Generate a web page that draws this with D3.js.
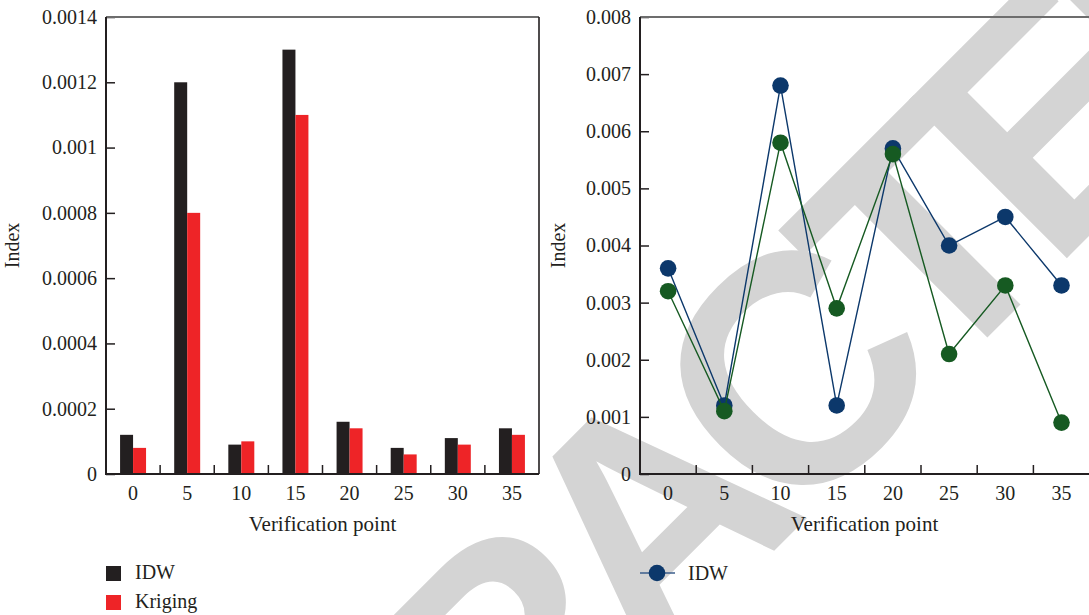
<!DOCTYPE html>
<html>
<head>
<meta charset="utf-8">
<script src="https://cdn.jsdelivr.net/npm/d3@7"></script>
<style>
  body { margin: 0; background: #fff; }
  text { font-family: "Liberation Serif", "Times New Roman", serif; fill: #231f20; }
</style>
</head>
<body>
<svg id="chart" width="1089" height="615"></svg>
<script>
// verification points (x categories)
var points = ["0", "5", "10", "15", "20", "25", "30", "35"];

// left panel: bar values
var barIDW     = [0.00012, 0.0012, 0.00009, 0.0013, 0.00016, 0.00008, 0.00011, 0.00014];
var barKriging = [0.00008, 0.0008, 0.00010, 0.0011, 0.00014, 0.00006, 0.00009, 0.00012];
var barTicks  = [0, 0.0002, 0.0004, 0.0006, 0.0008, 0.001, 0.0012, 0.0014];
var barLabels = ["0", "0.0002", "0.0004", "0.0006", "0.0008", "0.001", "0.0012", "0.0014"];

// right panel: line values
var lineIDW     = [0.0036, 0.0012, 0.0068, 0.0012, 0.0057, 0.0040, 0.0045, 0.0033];
var lineKriging = [0.0032, 0.0011, 0.0058, 0.0029, 0.0056, 0.0021, 0.0033, 0.0009];
var lineTicks  = [0, 0.001, 0.002, 0.003, 0.004, 0.005, 0.006, 0.007, 0.008];
var lineLabels = ["0", "0.001", "0.002", "0.003", "0.004", "0.005", "0.006", "0.007", "0.008"];

var dark = "#231f20", red = "#ee2427", blue = "#0c386b", green = "#165a22";

var svg = d3.select("#chart");

// watermark behind everything
svg.append("text")
	.attr("transform", "translate(112,1213) rotate(-45)")
	.attr("text-anchor", "start")
	.style("font-family", "'Liberation Sans', Arial, sans-serif")
	.style("font-weight", "bold")
	.style("font-size", "325px")
	.style("letter-spacing", "-32px")
	.style("fill", "#d4d4d4")
	.text("RETRACTED");

function frame(g, x0, x1, y0, y1, x, y, ticks, labels, showRight, titleOff) {
	// category boundary ticks (inward)
	g.selectAll(".xt")
		.data(points.slice(1))
		.enter().append("line")
		.attr("x1", function(d) { return x(d); })
		.attr("x2", function(d) { return x(d); })
		.attr("y1", y0).attr("y2", y0 - 9)
		.attr("stroke", dark).attr("stroke-width", 1.5);

	g.selectAll(".xl")
		.data(points)
		.enter().append("text")
		.attr("x", function(d) { return x(d) + x.bandwidth() / 2; })
		.attr("y", y0 + 26)
		.attr("text-anchor", "middle")
		.style("font-size", "20px")
		.text(function(d) { return d; });

	var ax = d3.axisLeft(y)
		.tickValues(ticks)
		.tickSize(-9)
		.tickPadding(9)
		.tickFormat(function(d, i) { return labels[i]; });
	var ya = g.append("g").attr("transform", "translate(" + x0 + ",0)").call(ax);
	ya.select(".domain").remove();
	ya.selectAll(".tick line").attr("stroke", dark).attr("stroke-width", 1.5);
	ya.selectAll(".tick text")
		.style("font-family", "'Liberation Serif', serif")
		.style("font-size", "20px")
		.attr("fill", dark);

	// frame lines
	g.append("line").attr("x1", x0).attr("x2", x1).attr("y1", y1).attr("y2", y1)
		.attr("stroke", "#6d6d6d").attr("stroke-width", 1.8);
	if (showRight) {
		g.append("line").attr("x1", x1).attr("x2", x1).attr("y1", y1).attr("y2", y0)
			.attr("stroke", dark).attr("stroke-width", 1.6);
	}
	g.append("line").attr("x1", x0).attr("x2", x0).attr("y1", y1).attr("y2", y0 + 1)
		.attr("stroke", dark).attr("stroke-width", 2);
	g.append("line").attr("x1", x0).attr("x2", x1).attr("y1", y0).attr("y2", y0)
		.attr("stroke", dark).attr("stroke-width", 2);

	g.append("text")
		.attr("x", (x0 + Math.min(x1, 1089)) / 2)
		.attr("y", y0 + 57)
		.attr("text-anchor", "middle")
		.style("font-size", "21px")
		.text("Verification point");

	g.append("text")
		.attr("transform", "translate(" + (x0 - titleOff) + "," + ((y0 + y1) / 2) + ") rotate(-90)")
		.attr("text-anchor", "middle")
		.style("font-size", "20px")
		.text("Index");
}

// ---- left: bar chart ----
var L = { x0: 106, x1: 539, y0: 474, y1: 17 };
var gl = svg.append("g");
var xl = d3.scaleBand().domain(points).range([L.x0, L.x1]);
var yl = d3.scaleLinear().domain([0, 0.0014]).range([L.y0, L.y1]);
var xs = d3.scaleBand().domain(["IDW", "Kriging"])
	.range([0, xl.bandwidth() * 0.48]);
var off = (xl.bandwidth() - xl.bandwidth() * 0.48) / 2;

var barRows = points.map(function(p, i) {
	return [{ p: p, k: "IDW", v: barIDW[i] }, { p: p, k: "Kriging", v: barKriging[i] }];
});
gl.selectAll(".grp")
	.data(barRows)
	.enter().append("g")
	.selectAll("rect")
	.data(function(d) { return d; })
	.enter().append("rect")
	.attr("x", function(d) { return xl(d.p) + off + xs(d.k); })
	.attr("width", xs.bandwidth())
	.attr("y", function(d) { return yl(d.v); })
	.attr("height", function(d) { return L.y0 - yl(d.v); })
	.attr("fill", function(d) { return d.k == "IDW" ? dark : red; });

frame(gl, L.x0, L.x1, L.y0, L.y1, xl, yl, barTicks, barLabels, true, 87);

// legend left
var legL = [{ k: "IDW", c: dark }, { k: "Kriging", c: red }];
gl.selectAll(".leg")
	.data(legL)
	.enter().append("rect")
	.attr("x", 106).attr("y", function(d, i) { return 566 + i * 29; })
	.attr("width", 15).attr("height", 15)
	.attr("fill", function(d) { return d.c; });
gl.selectAll(".legt")
	.data(legL)
	.enter().append("text")
	.attr("x", 135).attr("y", function(d, i) { return 579 + i * 29; })
	.style("font-size", "20px")
	.text(function(d) { return d.k; });

// ---- right: line chart ----
var R = { x0: 640, x1: 1089.6, y0: 474, y1: 17 };
var gr = svg.append("g");
var xr = d3.scaleBand().domain(points).range([R.x0, R.x1]);
var yr = d3.scaleLinear().domain([0, 0.008]).range([R.y0, R.y1]);

frame(gr, R.x0, R.x1, R.y0, R.y1, xr, yr, lineTicks, lineLabels, false, 75);

var line = d3.line()
	.x(function(d, i) { return xr(points[i]) + xr.bandwidth() / 2; })
	.y(function(d) { return yr(d); });

[{ v: lineIDW, c: blue }, { v: lineKriging, c: green }].forEach(function(s) {
	gr.append("path")
		.datum(s.v)
		.attr("d", line)
		.attr("fill", "none")
		.attr("stroke", s.c)
		.attr("stroke-width", 1.4);
	gr.append("g").selectAll("circle")
		.data(s.v)
		.enter().append("circle")
		.attr("cx", function(d, i) { return xr(points[i]) + xr.bandwidth() / 2; })
		.attr("cy", function(d) { return yr(d); })
		.attr("r", 8.3)
		.attr("fill", s.c);
});

// legend right (only IDW shown)
gr.append("line").attr("x1", 640).attr("x2", 675).attr("y1", 573).attr("y2", 573)
	.attr("stroke", "#3d5f8c").attr("stroke-width", 1.4);
gr.append("circle").attr("cx", 657).attr("cy", 573).attr("r", 8.3).attr("fill", blue);
gr.append("text").attr("x", 688).attr("y", 580).style("font-size", "20px").text("IDW");
</script>
</body>
</html>
